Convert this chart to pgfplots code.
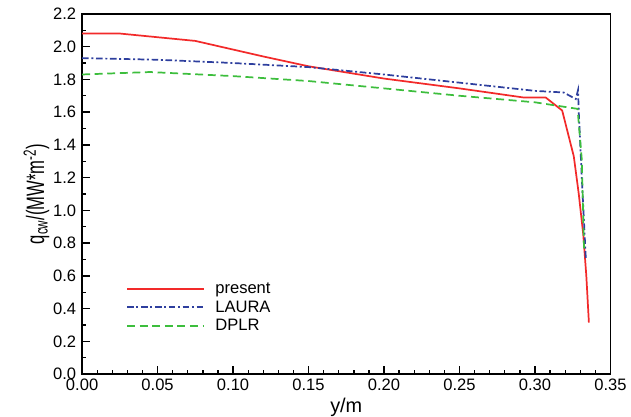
\documentclass[border=0pt]{standalone}
\usepackage{fontspec}
\setmainfont{Liberation Sans}
\usepackage{pgfplots}
\pgfplotsset{compat=1.18}
\definecolor{cpres}{HTML}{F22A2A}
\definecolor{claura}{HTML}{2E3F9E}
\definecolor{cdplr}{HTML}{3DBE3D}

\begin{document}
\begin{tikzpicture}
\begin{axis}[
    name=ax,
    scale only axis,
    width=399pt, height=272pt,
    xmin=0, xmax=0.35, ymin=0, ymax=2.2,
    xtick={0,0.05,...,0.35}, ytick={0,0.2,...,2.2},
    minor x tick num=4, minor y tick num=1,
    tick pos=left, tick align=inside,
    major tick length=6pt, minor tick length=2.8pt,
    every tick/.style={black, line width=1pt},
    axis line style={line width=1.3pt},
    /pgf/number format/assume math mode=true,
    tick label style={font=\fontsize{12.5}{14}\selectfont},
    xticklabel style={/pgf/number format/.cd,fixed,fixed zerofill,precision=2},
    yticklabel style={xshift=-1pt,/pgf/number format/.cd,fixed,fixed zerofill,precision=1},
    scaled ticks=false,
    xlabel={y/m},
    ylabel={\scalebox{0.66}[1]{q\textsubscript{cw}/(MW*m\textsuperscript{-2})}},
    xlabel style={font=\fontsize{15}{17}\selectfont, inner sep=0pt},
    xlabel shift=2pt,
    ylabel style={font=\fontsize{19}{21}\selectfont},
    ylabel shift=-4pt,
    legend style={at={(0.083,0.262)}, anchor=north west, draw=none, fill=none,
        inner sep=0pt, font=\fontsize{12.5}{14}\selectfont, row sep=0pt,
        column sep=6pt, legend cell align=left},
    legend image code/.code={\draw[#1] (0pt,0pt) -- (58pt,0pt);},
]
\addplot[cpres, line width=1.3pt] coordinates {
    (0,2.08) (0.025,2.08) (0.075,2.035) (0.12,1.94) (0.15,1.88) (0.2,1.805)
    (0.25,1.745) (0.292,1.69) (0.307,1.69) (0.318,1.61) (0.3257,1.33)
    (0.329,1.1) (0.332,0.85) (0.334,0.6) (0.3357,0.315)};
\addplot[claura, line width=1.3pt, dash pattern=on 5pt off 2pt on 1.5pt off 2pt] coordinates {
    (0,1.93) (0.05,1.92) (0.10,1.90) (0.15,1.875) (0.2,1.83) (0.25,1.78)
    (0.30,1.73) (0.319,1.72) (0.327,1.68) (0.3285,1.735) (0.329,1.6)
    (0.331,1.2) (0.3337,0.70)};
\addplot[cdplr, line width=1.3pt, dash pattern=on 6pt off 3.5pt] coordinates {
    (0,1.83) (0.045,1.845) (0.10,1.82) (0.15,1.79) (0.2,1.745) (0.25,1.70)
    (0.30,1.66) (0.3282,1.62) (0.331,1.31) (0.3325,0.75)};
\legend{present, LAURA, DPLR}
\end{axis}
\path ([xshift=-62pt]ax.south west);
\path ([yshift=10.5pt]ax.north west);
\end{tikzpicture}
\end{document}
